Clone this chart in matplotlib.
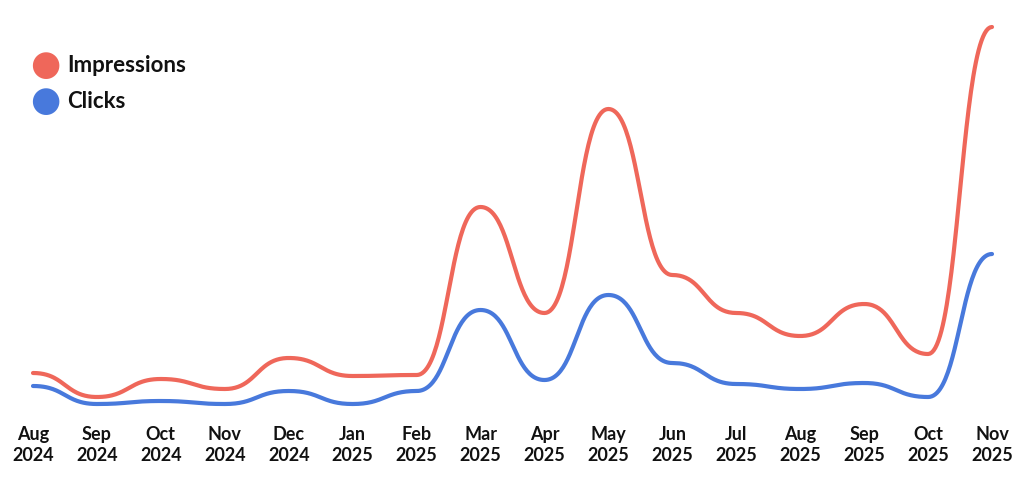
import numpy as np
import matplotlib
matplotlib.use("Agg")
from matplotlib import pyplot as plt

months = ["Aug\n2024", "Sep\n2024", "Oct\n2024", "Nov\n2024", "Dec\n2024", "Jan\n2025",
          "Feb\n2025", "Mar\n2025", "Apr\n2025", "May\n2025", "Jun\n2025", "Jul\n2025",
          "Aug\n2025", "Sep\n2025", "Oct\n2025", "Nov\n2025"]
impressions = [37, 13, 31, 21, 52, 34, 35, 203, 97, 301, 135, 97, 74, 106, 56, 383]
clicks = [24, 6, 9, 6, 19, 6, 19, 100, 30, 115, 47, 26, 21, 27, 13, 156]

RED = "#EF675A"
BLUE = "#4879DC"


def bump(x, y, n=50):
    # horizontal tangents at every point (like d3 curveBumpX)
    xs, ys = [], []
    t = np.linspace(0, 1, n)
    for i in range(len(x) - 1):
        x0, x1, y0, y1 = x[i], x[i + 1], y[i], y[i + 1]
        xm = (x0 + x1) / 2
        bx = (1-t)**3*x0 + 3*(1-t)**2*t*xm + 3*(1-t)*t**2*xm + t**3*x1
        by = (1-t)**3*y0 + 3*(1-t)**2*t*y0 + 3*(1-t)*t**2*y1 + t**3*y1
        xs.append(bx)
        ys.append(by)
    return np.concatenate(xs), np.concatenate(ys)


plt.rcParams['font.family'] = ['Lato', 'DejaVu Sans']

fig = plt.figure(figsize=(10.24, 4.99), dpi=100)
ax = fig.add_axes([0, (499 - 415) / 499, 1, 415 / 499])

x = np.arange(len(months))
for vals, col in [(impressions, RED), (clicks, BLUE)]:
    sx, sy = bump(x, vals)
    ax.plot(sx, sy, color=col, lw=3, solid_capstyle="round")

unit = (992 - 33) / 15
ax.set_xlim(-33 / unit, 15 + 32 / unit)
ax.set_ylim(-5, 410)
ax.set_xticks(x)
ax.set_xticklabels(months, fontsize=13, fontweight="bold", color="#111111", linespacing=1.3)
ax.tick_params(axis="x", length=0, pad=8)
ax.set_yticks([])
for s in ax.spines.values():
    s.set_visible(False)

# legend drawn by hand in pixel positions
for yy, col, lab in [(65, RED, "Impressions"), (101, BLUE, "Clicks")]:
    fig.text(45 / 1024, 1 - yy / 499, "\u25CF", color=col, fontsize=25,
             ha="center", va="center", family="DejaVu Sans")
    fig.text(67 / 1024, 1 - yy / 499, lab, color="#111111", fontsize=16,
             fontweight="bold", ha="left", va="center")

fig.savefig("out.png", dpi=100)
